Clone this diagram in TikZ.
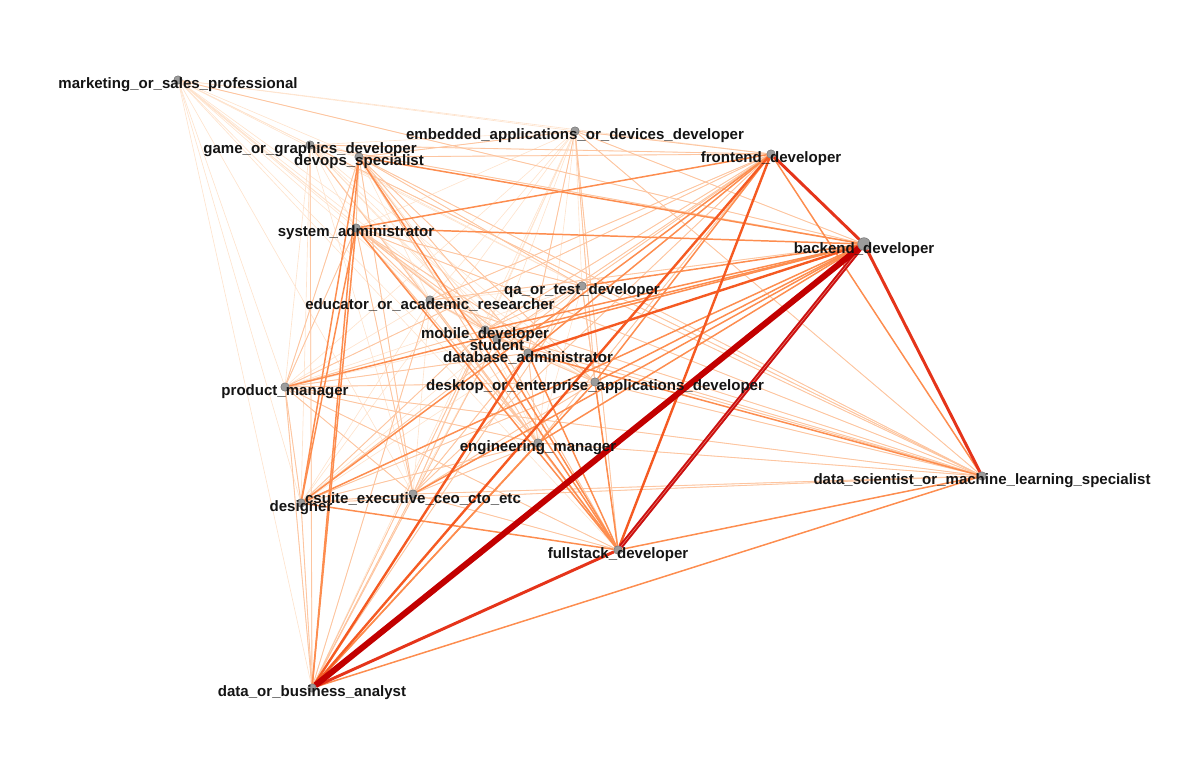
\documentclass[tikz,border=0pt]{standalone}
\usepackage{fontspec}
\setmainfont{Liberation Sans}
\usetikzlibrary{backgrounds}
\definecolor{TieA}{HTML}{FEE3CD}
\definecolor{TieB}{HTML}{FDC5A0}
\definecolor{TieC}{HTML}{FD8D4F}
\definecolor{TieD}{HTML}{F55A22}
\definecolor{TieE}{HTML}{E5341A}
\definecolor{TieF}{HTML}{CB1010}
\definecolor{TieG}{HTML}{C20000}
\definecolor{RoleGray}{HTML}{9C9C9C}

\tikzset{
  role/.style={circle,fill=RoleGray,draw=black!60,line width=0.3pt,inner sep=0pt,minimum size=6pt},
  rolelbl/.style={font=\fontsize{10.7}{12}\selectfont\bfseries,text=black!92,inner sep=0pt},
  tieA/.style={TieA,line width=0.45pt},
  tieB/.style={TieB,line width=0.6pt},
  tieC/.style={TieC,line width=1.05pt},
  tieD/.style={TieD,line width=1.7pt},
  tieE/.style={TieE,line width=2.1pt},
  tieF/.style={TieF,line width=1.4pt,double=TieE!60,double distance=0.35pt},
  tieG/.style={TieG,line width=4.3pt}
}

\begin{document}
\begin{tikzpicture}[x=0.025cm,y=-0.025cm]
        \useasboundingbox (0,0) rectangle (1200,760);

        \node[role] (mkt) at (178,80) {};
        \node[role] (game) at (310,145) {};
        \node[role] (devops) at (359,157) {};
        \node[role] (embed) at (575,131) {};
        \node[role] (front) at (771,154) {};
        \node[role,minimum size=9pt] (back) at (864,244) {};
        \node[role] (sysadm) at (356,228) {};
        \node[role] (qa) at (582,286) {};
        \node[role] (edu) at (430,300) {};
        \node[role] (mobile) at (485,330) {};
        \node[role] (student) at (497,339) {};
        \node[role] (dba) at (528,353) {};
        \node[role] (pm) at (285,387) {};
        \node[role] (desk) at (595,382) {};
        \node[role] (eng) at (538,443) {};
        \node[role] (ds) at (982,476) {};
        \node[role] (csuite) at (413,494) {};
        \node[role] (designer) at (301,503) {};
        \node[role] (full) at (618,550) {};
        \node[role] (da) at (312,688) {};

        \node[rolelbl] (mkt-txt) at (178,85) {marketing\_or\_sales\_professional};
        \node[rolelbl] (game-txt) at (310,150) {game\_or\_graphics\_developer};
        \node[rolelbl] (devops-txt) at (359,162) {devops\_specialist};
        \node[rolelbl] (embed-txt) at (575,136) {embedded\_applications\_or\_devices\_developer};
        \node[rolelbl] (front-txt) at (771,159) {frontend\_developer};
        \node[rolelbl] (back-txt) at (864,250) {backend\_developer};
        \node[rolelbl] (sysadm-txt) at (356,233) {system\_administrator};
        \node[rolelbl] (qa-txt) at (582,291) {qa\_or\_test\_developer};
        \node[rolelbl] (edu-txt) at (430,305) {educator\_or\_academic\_researcher};
        \node[rolelbl] (mobile-txt) at (485,335) {mobile\_developer};
        \node[rolelbl] (student-txt) at (497,345) {student};
        \node[rolelbl] (dba-txt) at (528,358) {database\_administrator};
        \node[rolelbl] (pm-txt) at (285,392) {product\_manager};
        \node[rolelbl] (desk-txt) at (595,387) {desktop\_or\_enterprise\_applications\_developer};
        \node[rolelbl] (eng-txt) at (538,448) {engineering\_manager};
        \node[rolelbl] (ds-txt) at (982,481) {data\_scientist\_or\_machine\_learning\_specialist};
        \node[rolelbl] (csuite-txt) at (413,499) {csuite\_executive\_ceo\_cto\_etc};
        \node[rolelbl] (designer-txt) at (301,508) {designer};
        \node[rolelbl] (full-txt) at (618,555) {fullstack\_developer};
        \node[rolelbl] (da-txt) at (312,693) {data\_or\_business\_analyst};

        \def\roles{mkt,game,devops,embed,front,back,sysadm,qa,edu,mobile,student,dba,pm,desk,eng,ds,csuite,designer,full,da}
        \begin{pgfonlayer}{background}
          \foreach \a [count=\i] in \roles {
            \foreach \b [count=\j] in \roles {
              \ifnum\j>\i \draw[tieA] (\a) -- (\b); \fi
            }
          }
          \foreach \a/\b in {ds/sysadm,ds/devops,ds/desk,ds/eng,ds/mobile,ds/qa,ds/edu,ds/csuite,ds/designer,ds/pm,ds/embed,ds/student,ds/game,
              full/qa,full/embed,full/edu,full/pm,full/student,full/game,full/csuite,
              back/embed,back/edu,back/game,back/mkt,
              front/devops,front/embed,front/qa,front/pm,front/csuite,front/eng,front/student,front/edu,front/game,front/mobile,
              da/pm,da/designer,da/csuite,da/edu,da/mobile,da/qa,da/student,da/game,
              sysadm/dba,sysadm/desk,sysadm/eng,sysadm/csuite,sysadm/pm,sysadm/qa,sysadm/mobile,sysadm/devops,sysadm/edu,sysadm/student,
              devops/dba,devops/desk,devops/eng,devops/csuite,devops/qa,devops/mobile,devops/pm,devops/embed,
              designer/pm,designer/csuite,designer/eng,designer/mobile,designer/desk,designer/qa,
              csuite/eng,csuite/dba,csuite/desk,csuite/mobile,csuite/pm,
              pm/dba,pm/desk,pm/eng,pm/mobile,
              dba/desk,dba/eng,dba/mobile,dba/qa,desk/eng,mobile/qa,edu/dba,embed/desk,embed/dba,qa/desk,student/dba}
            \draw[tieB] (\a) -- (\b);
          \foreach \a/\b in {devops/back,sysadm/back,sysadm/front,ds/da,ds/full,designer/full,sysadm/da,dba/full,desk/da,
              back/desk,back/designer,back/csuite,back/pm,back/eng,back/mobile,front/ds,front/designer,devops/designer,
              devops/da,sysadm/designer,devops/full,sysadm/full,desk/full,eng/full,mobile/full,front/dba,front/desk,
              back/qa,back/student,ds/dba,eng/da}
            \draw[tieC] (\a) -- (\b);
          \foreach \a/\b in {front/full,front/da,back/dba,dba/da}
            \draw[tieD] (\a) -- (\b);
          \foreach \a/\b in {full/da,back/front,back/ds}
            \draw[tieE] (\a) -- (\b);
          \draw[tieF] (back) -- (full);
          \draw[tieG] (back) -- (da);
        \end{pgfonlayer}
      \end{tikzpicture}
\end{document}
